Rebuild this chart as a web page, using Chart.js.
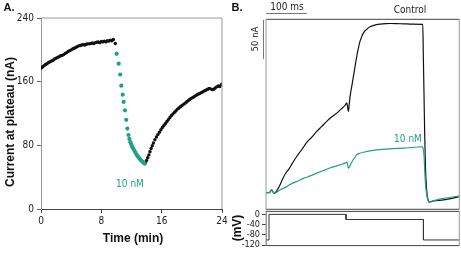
<!DOCTYPE html>
<html><head><meta charset="utf-8">
<script src="https://cdn.jsdelivr.net/npm/chart.js@4/dist/chart.umd.min.js"></script>
<style>
html,body{margin:0;padding:0;background:#fff;}
#wrap{position:relative;width:461px;height:253px;overflow:hidden;font-family:"Liberation Sans",Arial,sans-serif;}
canvas{position:absolute;}
.t{position:absolute;white-space:nowrap;transform:translate(-50%,-50%);line-height:1;}
.n{font-family:"Liberation Sans Narrow","Arial Narrow","DejaVu Sans Condensed",sans-serif;font-size:10px;color:#222;}
.b{font-weight:bold;font-size:12px;color:#111;}
.rot{transform:translate(-50%,-50%) rotate(-90deg);}
.bar{position:absolute;background:#777;}
</style>
</head><body>
<div id="wrap">
<canvas id="cA" width="230" height="253" style="left:0;top:0"></canvas>
<canvas id="cB" width="201" height="198" style="left:260px;top:15px"></canvas>
<canvas id="cV" width="231" height="49" style="left:230px;top:204px"></canvas>
<div class="t b" style="left:9px;top:7px;font-size:11px">A.</div>
<div class="t b" style="left:237px;top:7px;font-size:11px">B.</div>
<div class="t b rot" style="left:10px;top:122px">Current at plateau (nA)</div>
<div class="t b" style="left:133px;top:238px">Time (min)</div>
<div class="t n" style="left:130px;top:184px;color:#21a086">10 nM</div>
<div class="t n" style="left:287px;top:7px">100 ms</div>
<div class="bar" style="left:266px;top:13px;width:41px;height:1px"></div>
<div class="t n" style="left:410px;top:10px">Control</div>
<div class="t n rot" style="left:255px;top:39px;font-size:9.5px">50 nA</div>
<div class="bar" style="left:263px;top:20px;width:1px;height:39px"></div>
<div class="t n" style="left:408px;top:139px;color:#21a086">10 nM</div>
<div class="t b rot" style="left:237px;top:228px">(mV)</div>
</div>
<script>
// ---------- Panel A data (time in min, current in nA) ----------
const timeA_control1 = [0,0.2,0.4,0.6,0.8,1.0,1.2,1.4,1.6,1.8,2.0,2.2,2.4,2.6,2.8,3.0,3.2,3.4,3.6,3.8,4.0,4.2,4.4,4.6,4.8,5.0,5.2,5.4,5.6,5.8,6.0,6.2,6.4,6.6,6.8,7.0,7.2,7.4,7.6,7.8,8.0,8.2,8.4,8.6,8.8,9.0,9.2,9.4,9.6,9.85];
const curA_control1 = [177,178.5,180,181.5,182.5,184,185,186,187,188.5,189.5,190.5,191.5,192.5,193,194,195.5,196.5,198,199,200,201,202,203,204,205,205.5,206,206.5,206,207,207.5,207.5,208,208.5,208,209,209.5,210,209,210.5,210,211,210,211.5,211,212,211.5,213,208];
const timeA_drug = [10.03,10.3,10.5,10.65,10.83,10.96,11.14,11.3,11.45,11.6,11.72,11.85,11.98,12.1,12.25,12.4,12.55,12.7,12.85,13.0,13.15,13.3,13.45,13.6,13.75];
const curA_drug = [195,182.6,169,155,143.7,134.5,124,112,101,93,88,84,80.8,78,75.5,73,70.5,68,66,64,62.3,60.8,59.5,58.2,57];
const timeA_wash = [13.85,14.0,14.15,14.3,14.45,14.6,14.75,14.9,15.1,15.3,15.5,15.7,15.9,16.1,16.3,16.5,16.7,16.9,17.1,17.3,17.5,17.7,17.9,18.1,18.3,18.5,18.7,18.9,19.1,19.3,19.5,19.7,19.9,20.1,20.3,20.5,20.7,20.9,21.1,21.3,21.5,21.7,21.9,22.1,22.3,22.5,22.7,22.9,23.1,23.3,23.5,23.7,23.9,24.0];
const curA_wash = [58,61,64.5,68,72,76,79.5,83,87,90.5,93.5,96.5,99.5,102.5,105,107.5,110,112.5,115,117.5,119.5,121.5,123.5,125.5,127,128.5,130,131.5,133,134.5,136,137.5,139,140,141,142.5,143.5,144.5,145.5,146.5,147.5,148.5,149.5,150.5,151.5,151,150,150.5,152,153.5,154.5,154,156,157];
const xTicksA = [0,8,16,24];
const yTicksA = [0,80,160,240];

// ---------- Panel B data (time in ms, current in nA, voltage in mV) ----------
const timeB_control = [0,8.2,11,13.9,16.8,19.7,22.1,28,34.4,42,50.8,54.9,65,75.4,88,100,112,124.6,137,149.2,161,173.8,185,194.3,198.4,200.5,202.5,204.5,206.6,210,214.8,219,223,227,231.1,235,239.4,247,255.7,265,280.3,295,304.9,320,337.7,360,385.2,386.5,388.5,390,391.8,394,396.7,399,401.6,411.5,436,475];
const curB_control = [21.4,21.4,23,24.8,22.5,20.5,20.8,25,31.2,40,48,50.4,59,67.5,76.5,85.5,92,99.6,106,112.4,118,123,128.5,133,136,131,125,134,144.5,155,170,183,195.7,206,215,220.5,225.7,230,233.4,235.3,236.8,237.5,237.6,237.5,237.2,236.8,236.4,200,140,95,54.7,30,16.2,10.5,9,10.7,12,16.2];
const timeB_drug = [0,8.2,11,13.9,16.8,19.7,22.1,35,50.8,62,75.4,92,108.2,125,141,157,173.8,185,194.3,198.4,200.5,202.5,204.5,206.6,210,214.8,219,223,230,239.4,255,272.1,304.9,337.7,385.2,386.5,388.5,390,391.8,394,396.7,399,401.6,411.5,436,475];
const curB_drug = [21.4,21.4,23,24.8,22.5,20.5,20.8,25,29,32.5,35.5,39.5,42.7,46.3,49.6,52.8,55.6,57.5,59,60.3,57,52.6,53.5,56,59.5,64,67,69.7,71.5,73,74.7,76,77.4,78.2,80,76,67.5,50,33,22,14,11,9.8,11,14,17];
const timeB_volt = [0,7.4,7.4,196.7,196.7,386.9,386.9,475];
const voltB = [-100,-100,0,0,-20,-20,-100,-100];
const yTicksV = [0,-40,-80,-120];

const TEAL = '#21a086';
const pts = (xs, ys) => xs.map((x, i) => ({x, y: ys[i]}));
const narrow = {family: '"Liberation Sans Narrow","Arial Narrow","DejaVu Sans Condensed",sans-serif', size: 10};

const framePlugin = {
  id: 'frame',
  afterDraw(chart, args, o) {
    if (!o || !o.sides) return;
    const {ctx, chartArea: a} = chart;
    ctx.save();
    ctx.lineWidth = 1;
    const seg = (c, x1, y1, x2, y2) => { if (!c) return; ctx.strokeStyle = c; ctx.beginPath(); ctx.moveTo(x1, y1); ctx.lineTo(x2, y2); ctx.stroke(); };
    seg(o.sides.top, a.left, a.top, a.right, a.top);
    seg(o.sides.right, a.right, a.top, a.right, a.bottom);
    seg(o.sides.bottom, a.left, a.bottom, a.right, a.bottom);
    seg(o.sides.left, a.left, a.top, a.left, a.bottom);
    ctx.restore();
  }
};
Chart.register(framePlugin);

const base = {responsive: false, animation: false, devicePixelRatio: 1, events: []};

// Panel A
new Chart(document.getElementById('cA'), {
  type: 'scatter',
  data: {datasets: [
    {data: pts(timeA_control1, curA_control1), backgroundColor: '#111', borderWidth: 0, pointRadius: 1.7},
    {data: pts(timeA_drug, curA_drug), backgroundColor: TEAL, borderWidth: 0, pointRadius: 2.1},
    {data: pts(timeA_wash, curA_wash), backgroundColor: '#111', borderWidth: 0, pointRadius: 1.7}
  ]},
  options: Object.assign({}, base, {
    layout: {padding: {top: 18, right: 8, left: 0, bottom: 0}},
    plugins: {legend: {display: false}, tooltip: {enabled: false}, frame: {sides: {top: '#999', right: '#999'}}},
    scales: {
      x: {type: 'linear', min: 0, max: 24,
        afterBuildTicks: s => { s.ticks = xTicksA.map(v => ({value: v})); },
        afterFit: s => { s.height = 44; },
        grid: {drawOnChartArea: false, tickLength: 4, color: '#444'},
        border: {color: '#444'},
        ticks: {font: narrow, color: '#222', padding: 2, maxRotation: 0, autoSkip: false}},
      y: {min: 0, max: 240,
        afterBuildTicks: s => { s.ticks = yTicksA.map(v => ({value: v})); },
        afterFit: s => { s.width = 41; },
        grid: {drawOnChartArea: false, tickLength: 4, color: '#666'},
        border: {color: '#999'},
        ticks: {font: narrow, color: '#222', padding: 3, autoSkip: false}}
    }
  })
});

// Panel B currents
new Chart(document.getElementById('cB'), {
  type: 'scatter',
  data: {datasets: [
    {data: pts(timeB_drug, curB_drug), showLine: true, borderColor: TEAL, borderWidth: 1.2, pointRadius: 0, cubicInterpolationMode: 'monotone'},
    {data: pts(timeB_control, curB_control), showLine: true, borderColor: '#111', borderWidth: 1.2, pointRadius: 0, cubicInterpolationMode: 'monotone'}
  ]},
  options: Object.assign({}, base, {
    layout: {padding: {top: 4.3, left: 6, right: 1.7, bottom: 3.7}},
    plugins: {legend: {display: false}, tooltip: {enabled: false}, frame: {sides: {top: '#444', right: '#999', bottom: '#444', left: '#999'}}},
    scales: {
      x: {type: 'linear', min: 0, max: 475, display: false},
      y: {min: 0, max: 243, display: false}
    }
  })
});

// Panel B voltage protocol
new Chart(document.getElementById('cV'), {
  type: 'scatter',
  data: {datasets: [
    {data: pts(timeB_volt, voltB), showLine: true, borderColor: '#333', borderWidth: 1, pointRadius: 0, tension: 0}
  ]},
  options: Object.assign({}, base, {
    layout: {padding: {top: 7, left: 0, right: 1.7, bottom: 7.3}},
    plugins: {legend: {display: false}, tooltip: {enabled: false}, frame: {sides: {top: '#444', right: '#999', bottom: '#444', left: '#999'}}},
    scales: {
      x: {type: 'linear', min: 0, max: 475, display: false},
      y: {min: -122, max: 11.5,
        afterBuildTicks: s => { s.ticks = yTicksV.map(v => ({value: v})); },
        afterFit: s => { s.width = 36; },
        grid: {drawOnChartArea: false, tickLength: 4, color: '#444'},
        border: {color: '#999'},
        ticks: {font: {family: narrow.family, size: 9}, color: '#222', padding: 2, autoSkip: false}}
    }
  })
});
</script>
</body></html>
